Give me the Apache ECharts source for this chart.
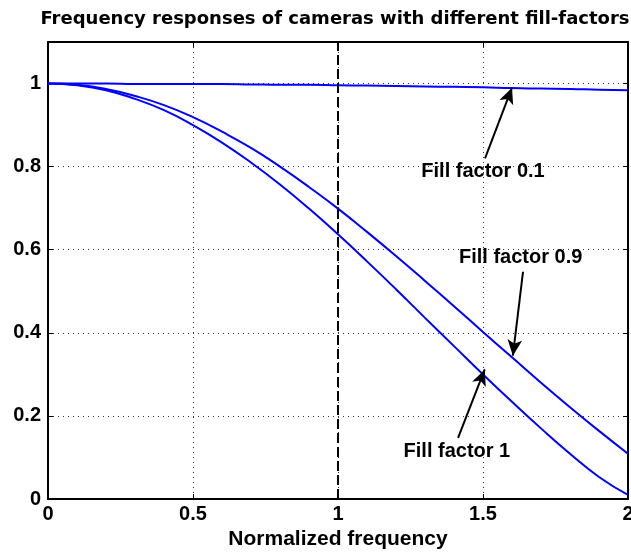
<!DOCTYPE html>
<html>
<head>
<meta charset="utf-8">
<script src="https://cdn.jsdelivr.net/npm/echarts@6/dist/echarts.min.js"></script>
<style>
  html, body { margin: 0; padding: 0; background: #fff; }
  #chart { width: 631px; height: 554px; }
</style>
</head>
<body>
<div id="chart"></div>
<script>
// Normalized frequency samples
const freq = [0, 0.1, 0.2, 0.3, 0.4, 0.5, 0.6, 0.7, 0.8, 0.9, 1.0,
              1.1, 1.2, 1.3, 1.4, 1.5, 1.6, 1.7, 1.8, 1.9, 2.0];

// Response of a camera with fill factor 1
const respFill1 = [1.000, 0.996, 0.984, 0.963, 0.936, 0.900, 0.858, 0.810, 0.757, 0.699, 0.637,
                   0.572, 0.505, 0.436, 0.368, 0.300, 0.234, 0.170, 0.109, 0.053, 0.010];

// Response of a camera with fill factor 0.9
const respFill09 = [1.000, 0.997, 0.987, 0.970, 0.948, 0.919, 0.884, 0.845, 0.800, 0.751, 0.699,
                    0.643, 0.585, 0.525, 0.464, 0.402, 0.341, 0.280, 0.221, 0.164, 0.109];

// Response of a camera with fill factor 0.1
const respFill01 = [1.000, 1.000, 1.000, 0.999, 0.999, 0.999, 0.999, 0.998, 0.997, 0.997, 0.996,
                    0.995, 0.994, 0.993, 0.992, 0.991, 0.989, 0.988, 0.987, 0.985, 0.984];

const xTickLabels = ['0', '0.5', '1', '1.5', '2'];
const yTickLabels = ['0', '0.2', '0.4', '0.6', '0.8', '1'];

// Callouts: label position, arrow tail and arrow tip (data units)
const callouts = [
  { text: 'Fill factor 0.1', label: [1.50, 0.788], tail: [1.507, 0.82], tip: [1.60, 0.990] },
  { text: 'Fill factor 0.9', label: [1.63, 0.582], tail: [1.638, 0.547], tip: [1.603, 0.345] },
  { text: 'Fill factor 1',   label: [1.41, 0.115], tail: [1.414, 0.147], tip: [1.506, 0.312] }
];

const TITLE_FONT = 'DejaVu Sans';
const FONT = 'Liberation Sans, Arial, sans-serif';
const BLUE = '#0000ff';

const chart = echarts.init(document.getElementById('chart'), null, { renderer: 'canvas' });

function pairs(ys) { return freq.map((x, i) => [x, ys[i]]); }

const boxAxis = {
  axisLine: { show: true, onZero: false, lineStyle: { color: '#000', width: 2 } },
  axisTick: { show: true, inside: true, length: 5, lineStyle: { color: '#000', width: 1 } },
  axisLabel: { show: false },
  splitLine: { show: false }
};

const option = {
  animation: false,
  backgroundColor: '#fff',
  title: {
    text: 'Frequency responses of cameras with different fill-factors',
    left: 330,
    textAlign: 'center',
    top: 5,
    textStyle: { fontFamily: TITLE_FONT, fontWeight: 'bold', fontSize: 18, color: '#000' }
  },
  grid: { left: 48, right: 3, top: 42, bottom: 55, containLabel: false, outerBoundsMode: 'none' },
  xAxis: [
    {
      type: 'value', min: 0, max: 2, interval: 0.5, position: 'bottom',
      name: 'Normalized frequency', nameLocation: 'middle', nameGap: 30,
      nameTextStyle: { fontFamily: FONT, fontWeight: 'bold', fontSize: 21, color: '#000' },
      axisLine: { show: true, onZero: false, lineStyle: { color: '#000', width: 2 } },
      axisTick: { show: true, inside: true, length: 5, lineStyle: { color: '#000', width: 1 } },
      axisLabel: {
        show: true, margin: 5, fontFamily: FONT, fontWeight: 'bold', fontSize: 20, color: '#000',
        formatter: v => xTickLabels[Math.round(v / 0.5)] ?? ''
      },
      splitLine: { show: true, lineStyle: { color: '#333', width: 1, type: [1, 4] } }
    },
    Object.assign({ type: 'value', min: 0, max: 2, interval: 0.5, position: 'top' }, boxAxis)
  ],
  yAxis: [
    {
      type: 'value', min: 0, max: 1.1, interval: 0.2, position: 'left',
      axisLine: { show: true, onZero: false, lineStyle: { color: '#000', width: 2 } },
      axisTick: { show: true, inside: true, length: 5, lineStyle: { color: '#000', width: 1 } },
      axisLabel: {
        show: true, margin: 7, fontFamily: FONT, fontWeight: 'bold', fontSize: 20, color: '#000',
        showMaxLabel: false,
        formatter: v => (v > 1.05 ? '' : (yTickLabels[Math.round(v / 0.2)] ?? ''))
      },
      splitLine: { show: true, lineStyle: { color: '#333', width: 1, type: [1, 4] } }
    },
    Object.assign({ type: 'value', min: 0, max: 1.1, interval: 0.2, position: 'right' }, boxAxis)
  ],
  series: [
    {
      name: 'Fill factor 1', type: 'line', data: pairs(respFill1), smooth: true,
      showSymbol: false, lineStyle: { color: BLUE, width: 2 }, z: 3,
      markLine: {
        silent: true, symbol: ['none', 'none'], label: { show: false },
        lineStyle: { color: '#000', width: 2, type: [10, 4] },
        data: [[{ coord: [1, 0] }, { coord: [1, 1.1] }]]
      }
    },
    {
      name: 'Fill factor 0.9', type: 'line', data: pairs(respFill09), smooth: true,
      showSymbol: false, lineStyle: { color: BLUE, width: 2 }, z: 3
    },
    {
      name: 'Fill factor 0.1', type: 'line', data: pairs(respFill01), smooth: true,
      showSymbol: false, lineStyle: { color: BLUE, width: 2 }, z: 3
    },
    {
      // callout arrows
      name: 'callouts', type: 'line', data: [], z: 5,
      markLine: {
        silent: true, symbol: ['none', 'arrow'], symbolSize: [11, 16],
        label: { show: false },
        lineStyle: { color: '#000', width: 2, type: 'solid' },
        data: callouts.map(c => [{ coord: c.tail }, { coord: c.tip }])
      }
    }
  ]
};

chart.setOption(option);

// callout texts, placed through the chart's own coordinate conversion
chart.setOption({
  graphic: callouts.map(c => {
    const p = chart.convertToPixel({ gridIndex: 0 }, c.label);
    return {
      type: 'text', x: p[0], y: p[1], z: 10, silent: true,
      style: {
        text: c.text, fill: '#000', align: 'center', verticalAlign: 'middle',
        font: 'bold 20px ' + FONT
      }
    };
  })
});
</script>
</body>
</html>
